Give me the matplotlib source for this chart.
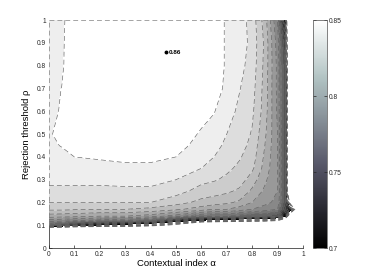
import numpy as np
import matplotlib
matplotlib.use("Agg")
from matplotlib import pyplot as plt
from matplotlib import colors as mcolors
from matplotlib.cm import ScalarMappable

plt.rcParams['font.family'] = ['Liberation Sans', 'DejaVu Sans']
plt.rcParams['lines.scale_dashes'] = False

# grid
alpha_vals = [0, 0.05, 0.1, 0.2, 0.3, 0.4, 0.5, 0.6, 0.65, 0.7, 0.75, 0.8, 0.85, 0.9, 0.93, 0.95, 1.0]
rho_vals = [0, 0.08, 0.1, 0.12, 0.14, 0.17, 0.2, 0.25, 0.3, 0.35, 0.4, 0.45, 0.5, 0.6, 0.7, 0.8, 0.9, 1.0]

acc_rho_000 = [0.45] * 17
acc_rho_008 = [0.45] * 17
acc_rho_010 = [0.76, 0.75, 0.72, 0.695, 0.68, 0.65, 0.60, 0.45, 0.45, 0.45, 0.45, 0.45, 0.45, 0.45, 0.45, 0.45, 0.45]
acc_rho_012 = [0.785, 0.783, 0.78, 0.775, 0.77, 0.76, 0.72, 0.69, 0.68, 0.67, 0.66, 0.65, 0.64, 0.62, 0.55, 0.45, 0.45]
acc_rho_014 = [0.805, 0.804, 0.803, 0.80, 0.80, 0.795, 0.785, 0.77, 0.77, 0.77, 0.765, 0.76, 0.76, 0.75, 0.70, 0.55, 0.45]
acc_rho_017 = [0.822, 0.822, 0.821, 0.82, 0.82, 0.817, 0.812, 0.805, 0.80, 0.80, 0.795, 0.79, 0.785, 0.78, 0.74, 0.72, 0.45]
acc_rho_020 = [0.830, 0.830, 0.830, 0.830, 0.830, 0.830, 0.824, 0.817, 0.815, 0.812, 0.808, 0.80, 0.793, 0.787, 0.75, 0.60, 0.45]
acc_rho_025 = [0.838, 0.838, 0.838, 0.838, 0.838, 0.838, 0.834, 0.826, 0.824, 0.822, 0.818, 0.808, 0.798, 0.79, 0.75, 0.45, 0.45]
acc_rho_030 = [0.842, 0.842, 0.842, 0.842, 0.843, 0.843, 0.840, 0.833, 0.831, 0.828, 0.825, 0.815, 0.802, 0.79, 0.75, 0.45, 0.45]
acc_rho_035 = [0.844, 0.845, 0.846, 0.847, 0.848, 0.848, 0.845, 0.840, 0.836, 0.832, 0.828, 0.822, 0.806, 0.79, 0.75, 0.45, 0.45]
acc_rho_040 = [0.846, 0.847, 0.850, 0.851, 0.852, 0.852, 0.850, 0.844, 0.840, 0.835, 0.831, 0.825, 0.808, 0.79, 0.75, 0.45, 0.45]
acc_rho_045 = [0.848, 0.8505, 0.853, 0.854, 0.855, 0.855, 0.853, 0.847, 0.843, 0.838, 0.834, 0.827, 0.81, 0.79, 0.75, 0.45, 0.45]
acc_rho_050 = [0.8495, 0.8513, 0.855, 0.856, 0.857, 0.857, 0.855, 0.849, 0.846, 0.840, 0.836, 0.829, 0.812, 0.79, 0.75, 0.45, 0.45]
acc_rho_060 = [0.8485, 0.8505, 0.856, 0.857, 0.858, 0.858, 0.857, 0.853, 0.8505, 0.844, 0.838, 0.832, 0.815, 0.788, 0.75, 0.45, 0.45]
acc_rho_070 = [0.848, 0.8501, 0.856, 0.857, 0.858, 0.859, 0.858, 0.856, 0.853, 0.8485, 0.8405, 0.834, 0.816, 0.787, 0.75, 0.45, 0.45]
acc_rho_080 = [0.848, 0.849, 0.855, 0.857, 0.858, 0.859, 0.859, 0.857, 0.854, 0.849, 0.843, 0.836, 0.817, 0.787, 0.75, 0.45, 0.45]
acc_rho_090 = [0.847, 0.849, 0.854, 0.856, 0.857, 0.859, 0.859, 0.857, 0.854, 0.849, 0.845, 0.837, 0.818, 0.785, 0.74, 0.45, 0.45]
acc_rho_100 = [0.847, 0.849, 0.853, 0.855, 0.856, 0.857, 0.857, 0.856, 0.854, 0.849, 0.845, 0.836, 0.815, 0.78, 0.71, 0.45, 0.45]

best_alpha = 0.46
best_rho = 0.86
best_acc = 0.86

acc = np.array([acc_rho_000, acc_rho_008, acc_rho_010, acc_rho_012, acc_rho_014, acc_rho_017,
                acc_rho_020, acc_rho_025, acc_rho_030, acc_rho_035, acc_rho_040, acc_rho_045,
                acc_rho_050, acc_rho_060, acc_rho_070, acc_rho_080, acc_rho_090, acc_rho_100])
A, R = np.meshgrid(alpha_vals, rho_vals)

vmin, vmax = 0.7, 0.85
fill_levels = np.round(np.arange(0.70, 0.875, 0.01), 2)
line_levels = np.round(np.arange(0.62, 0.865, 0.01), 2)
norm = mcolors.Normalize(vmin, vmax, clip=True)
# matlab style: band colour taken from its lower level
band_colors = [plt.cm.gray(norm(l)) for l in fill_levels[:-1]]

# bone, toned down a bit towards plain grey
t = np.linspace(0, 1, 256)
cb_cmap = mcolors.ListedColormap(0.55 * plt.cm.bone(t)[:, :3] + 0.45 * plt.cm.gray(t)[:, :3])

fig = plt.figure(figsize=(3.74, 2.8), dpi=100)
ax = fig.add_axes([0.131, 0.114, 0.679, 0.814])
cax = fig.add_axes([0.837, 0.114, 0.037, 0.814])

dash = (0, (3.5, 2.2))
ax.contourf(A, R, acc, levels=fill_levels, colors=band_colors, zorder=1)
ax.contour(A, R, acc, levels=line_levels, colors='0.38', linewidths=0.45,
           linestyles=[dash], zorder=2)

# outer edge of the filled region (left and top sides)
left_in = acc[:, 0] >= vmin
ax.plot(np.zeros(left_in.sum()), np.array(rho_vals)[left_in], color='0.5', lw=0.5,
        linestyle=dash, clip_on=False, zorder=2)
top_in = acc[-1, :] >= vmin
ax.plot(np.array(alpha_vals)[top_in], np.full(top_in.sum(), rho_vals[-1]), color='0.5', lw=0.5,
        linestyle=dash, clip_on=False, zorder=2)

ax.plot(best_alpha, best_rho, 'o', color='k', ms=1.8, zorder=3)
ax.text(best_alpha + 0.012, best_rho, '%.2f' % best_acc, fontsize=4.5, fontweight='bold',
        va='center', ha='left', zorder=3)

ax.set_xlim(0, 1)
ax.set_ylim(0, 1)
ticks = np.round(np.arange(0, 1.01, 0.1), 1)
ax.set_xticks(ticks)
ax.set_yticks(ticks)
ax.set_xticklabels(['%g' % t for t in ticks])
ax.set_yticklabels(['%g' % t for t in ticks])
ax.tick_params(direction='in', length=2.5, width=0.5, labelsize=4.8, pad=2, colors='0.15')
ax.set_axisbelow(True)
for s in ['top', 'right']:
    ax.spines[s].set_visible(False)
for s in ['left', 'bottom']:
    ax.spines[s].set_linewidth(0.6)
    ax.spines[s].set_color('0.25')
    ax.spines[s].set_zorder(0.5)
ax.set_xlabel('Contextual index \u03b1', fontsize=6.8, labelpad=1)
ax.set_ylabel('Rejection threshold \u03c1', fontsize=6.8, labelpad=4)

sm = ScalarMappable(norm=mcolors.Normalize(vmin, vmax), cmap=cb_cmap)
cb = fig.colorbar(sm, cax=cax)
cb.set_ticks([0.7, 0.75, 0.8, 0.85])
cb.set_ticklabels(['0.7', '0.75', '0.8', '0.85'])
cb.ax.tick_params(direction='in', length=2, width=0.5, labelsize=4.8, pad=1, colors='0.15',
                  left=True, right=True)
cb.outline.set_linewidth(0.5)
cb.outline.set_edgecolor('0.3')

fig.savefig('out.png', dpi=100)
plt.close()
